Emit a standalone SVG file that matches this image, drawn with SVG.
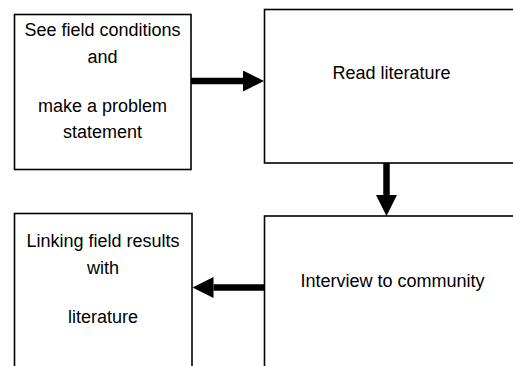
<svg xmlns="http://www.w3.org/2000/svg" width="513" height="366" viewBox="0 0 513 366">
  <style>
    .box { fill: #ffffff; stroke: #000000; stroke-width: 1.6; }
    .lbl { font-family: "Liberation Sans", Arial, sans-serif; font-size: 18px; fill: #000000; text-anchor: middle; }
    .shaft { stroke: #000000; stroke-width: 6.5; fill: none; }
  </style>
  <defs>
    <marker id="head" viewBox="0 0 21 21" refX="0" refY="10.5" markerWidth="21" markerHeight="21" markerUnits="userSpaceOnUse" orient="auto">
      <polygon points="0,0 21,10.5 0,21" fill="#000000"/>
    </marker>
  </defs>
  <rect width="513" height="366" fill="#ffffff"/>

  <g id="node-field">
    <rect class="box" x="14.5" y="14.5" width="176.5" height="155"/>
    <text class="lbl" x="102.5" y="36">See field conditions</text>
    <text class="lbl" x="102.5" y="63">and</text>
    <text class="lbl" x="102.5" y="111.5">make a problem</text>
    <text class="lbl" x="102.5" y="138">statement</text>
  </g>

  <g id="node-read">
    <rect class="box" x="264.5" y="9.5" width="260" height="153.5"/>
    <text class="lbl" x="391.5" y="79">Read literature</text>
  </g>

  <g id="node-interview">
    <rect class="box" x="264.5" y="216" width="260" height="170"/>
    <text class="lbl" x="392.5" y="286.5">Interview to community</text>
  </g>

  <g id="node-linking">
    <rect class="box" x="14.5" y="213.5" width="177.5" height="170"/>
    <text class="lbl" x="103" y="246.5">Linking field results</text>
    <text class="lbl" x="103" y="273.5">with</text>
    <text class="lbl" x="103" y="322.5">literature</text>
  </g>

  <g id="connectors">
    <line class="shaft" x1="191" y1="81" x2="243" y2="81" marker-end="url(#head)"/>
    <line class="shaft" x1="386.5" y1="163" x2="386.5" y2="195" marker-end="url(#head)"/>
    <line class="shaft" x1="264.5" y1="287.5" x2="213.5" y2="287.5" marker-end="url(#head)"/>
  </g>
</svg>
